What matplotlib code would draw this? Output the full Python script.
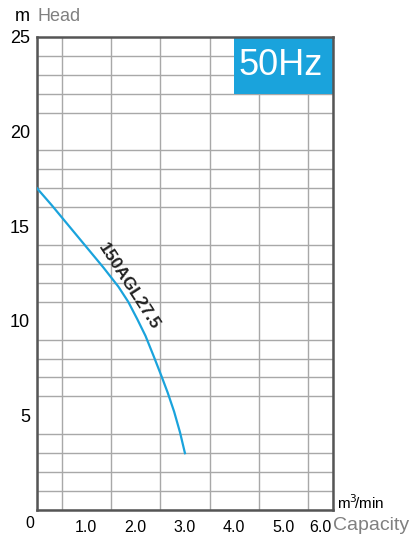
"""150AGL27.5 pump curve (50Hz)."""

import matplotlib
matplotlib.use("Agg")
import matplotlib.pyplot as plt
from matplotlib.patches import Rectangle

plt.rcParams["font.family"] = ["Liberation Sans", "DejaVu Sans"]

# data
capacity = [0.0, 0.3, 0.65, 1.0, 1.35, 1.65, 1.85, 2.03, 2.2, 2.37, 2.52,
            2.65, 2.78, 2.9, 3.0]                                   # m3/min
head = [17.0, 16.1, 15.0, 13.9, 12.8, 11.8, 11.0, 10.1, 9.2, 8.1, 7.1,
        6.2, 5.2, 4.1, 3.0]                                         # m
model = "150AGL27.5"
freq = "50Hz"
x_ticks = [1.0, 2.0, 3.0, 4.0, 5.0, 5.75]
x_labels = ["1.0", "2.0", "3.0", "4.0", "5.0", "6.0"]
y_ticks = [5, 10, 15, 20, 25]

BLUE = "#1aa3dc"
GRID = "#a8a8a8"
SPINE = "#555555"
GRAY_TXT = "#808080"

fig = plt.figure(figsize=(4.11, 5.34), dpi=100)
ax = fig.add_axes([0.09, 0.045, 0.72, 0.886])

ax.set_xlim(0, 6)
ax.set_ylim(0, 25)

# grid: vertical every 0.5, horizontal every 1
ax.set_xticks([i * 0.5 for i in range(13)], minor=True)
ax.set_yticks(range(26), minor=True)
ax.grid(which="minor", color=GRID, lw=1.0)
ax.grid(which="major", visible=False)
ax.set_axisbelow(True)

ax.set_xticks(x_ticks)
ax.set_xticklabels(x_labels, fontsize=11.5)
ax.set_yticks(y_ticks)
ax.set_yticklabels([str(v) for v in y_ticks], fontsize=13)
ax.tick_params(which="both", length=0)
ax.tick_params(axis="x", pad=7)
ax.tick_params(axis="y", pad=5)

for s in ax.spines.values():
    s.set_color(SPINE)
    s.set_linewidth(1.8)

ax.plot(capacity, head, color=BLUE, lw=1.6, zorder=3)

ax.text(1.86, 11.8, model, rotation=-57, rotation_mode="anchor",
        ha="center", va="center", fontsize=12.5, fontweight="bold",
        color="#222222", zorder=4)

# 50Hz box
ax.add_patch(Rectangle((4.0, 22.0), 2.0, 3.0, facecolor=BLUE,
                       edgecolor="none", zorder=2))
ax.text(4.93, 23.5, freq, ha="center", va="center", fontsize=26,
        color="white", zorder=3)

# axis captions
ax.text(-0.14, -0.69, "0", ha="center", va="center", fontsize=11.5,
        clip_on=False)
ax.text(-0.45, 26.1, "m", ha="left", va="center", fontsize=13,
        clip_on=False)
ax.text(0.02, 26.1, "Head", ha="left", va="center", fontsize=13,
        color=GRAY_TXT, clip_on=False)
ax.text(6.0, -1.08, "Capacity", ha="left", va="baseline", fontsize=14,
        color=GRAY_TXT, clip_on=False)
ax.text(6.08, 0.03, "m$^3\\!$/min", ha="left", va="baseline", fontsize=11,
        clip_on=False)

fig.savefig("out.png", dpi=100)
